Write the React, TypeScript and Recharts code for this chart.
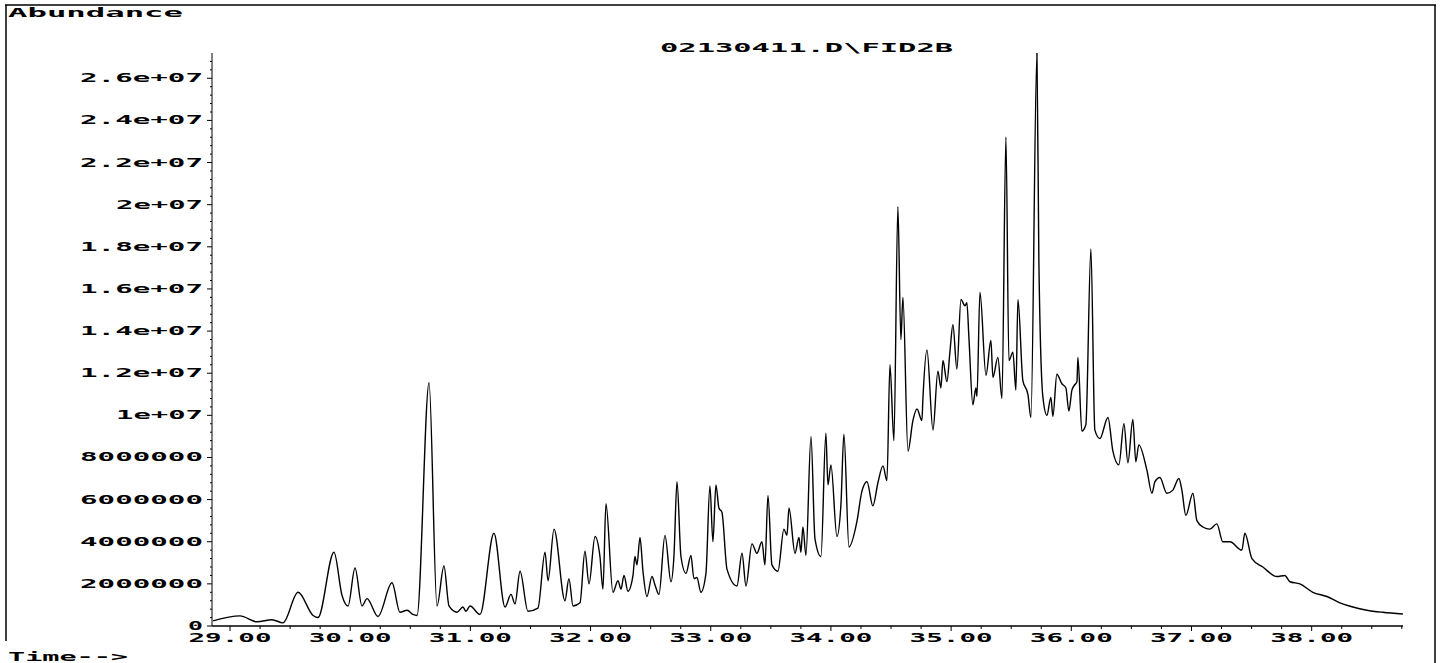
import React from 'react';
import { LineChart, Line, XAxis, YAxis } from 'recharts';

// retention time (min) of each traced vertex of the FID trace
const retentionTimes = [
  28.859, 29.083, 29.225, 29.349, 29.441, 29.566, 29.691, 29.732, 29.865, 29.932,
  29.982, 30.04, 30.098, 30.14, 30.231, 30.348, 30.414, 30.473, 30.522, 30.556,
  30.656, 30.722, 30.78, 30.822, 30.889, 30.938, 30.963, 30.997, 31.08, 31.196,
  31.288, 31.338, 31.371, 31.413, 31.479, 31.562, 31.621, 31.646, 31.696, 31.787,
  31.82, 31.854, 31.912, 31.953, 31.987, 32.037, 32.078, 32.103, 32.128, 32.186,
  32.228, 32.253, 32.278, 32.311, 32.353, 32.369, 32.386, 32.411, 32.436, 32.469,
  32.511, 32.536, 32.569, 32.619, 32.669, 32.694, 32.719, 32.752, 32.794, 32.835,
  32.86, 32.885, 32.918, 32.96, 32.993, 33.018, 33.043, 33.068, 33.093, 33.135,
  33.218, 33.26, 33.293, 33.343, 33.384, 33.426, 33.451, 33.476, 33.509, 33.559,
  33.609, 33.634, 33.651, 33.701, 33.734, 33.75, 33.767, 33.792, 33.834, 33.867,
  33.917, 33.958, 33.975, 34.0, 34.05, 34.083, 34.108, 34.15, 34.216, 34.258,
  34.3, 34.349, 34.391, 34.433, 34.466, 34.491, 34.524, 34.557, 34.582, 34.599,
  34.641, 34.682, 34.716, 34.757, 34.765, 34.799, 34.849, 34.89, 34.915, 34.932,
  34.965, 34.99, 35.015, 35.048, 35.082, 35.115, 35.131, 35.148, 35.181, 35.206,
  35.215, 35.24, 35.29, 35.331, 35.348, 35.389, 35.423, 35.456, 35.481, 35.514,
  35.539, 35.556, 35.597, 35.639, 35.664, 35.714, 35.73, 35.764, 35.797, 35.83,
  35.847, 35.88, 35.922, 35.955, 35.98, 36.005, 36.022, 36.047, 36.055, 36.088,
  36.121, 36.163, 36.196, 36.238, 36.305, 36.346, 36.396, 36.438, 36.471, 36.512,
  36.537, 36.562, 36.629, 36.671, 36.696, 36.737, 36.795, 36.845, 36.895, 36.92,
  36.953, 37.012, 37.045, 37.095, 37.153, 37.211, 37.261, 37.32, 37.419, 37.444,
  37.503, 37.594, 37.711, 37.777, 37.819, 37.902, 38.01, 38.127, 38.235, 38.343,
  38.459, 38.592, 38.759,
];

// abundance at each of those times
const abundances = [
  0.24e6, 0.48e6, 0.2e6, 0.3e6, 0.15e6, 1.6e6, 0.5e6, 0.4e6, 3.5e6, 1.45e6,
  0.95e6, 2.75e6, 0.95e6, 1.3e6, 0.45e6, 2.05e6, 0.65e6, 0.75e6, 0.55e6, 0.5e6,
  11.55e6, 0.95e6, 2.85e6, 0.95e6, 0.65e6, 0.9e6, 0.7e6, 0.95e6, 0.55e6, 4.4e6,
  0.9e6, 1.5e6, 1.05e6, 2.6e6, 0.7e6, 0.85e6, 3.5e6, 2.15e6, 4.6e6, 1.2e6,
  2.25e6, 0.95e6, 1.1e6, 3.55e6, 2.0e6, 4.25e6, 3.3e6, 1.75e6, 5.8e6, 1.6e6,
  2.15e6, 1.75e6, 2.4e6, 1.65e6, 2.4e6, 3.3e6, 2.9e6, 4.2e6, 2.6e6, 1.4e6,
  2.35e6, 1.95e6, 1.5e6, 4.3e6, 2.1e6, 3.35e6, 6.85e6, 3.3e6, 2.5e6, 3.35e6,
  2.25e6, 2.3e6, 1.6e6, 2.5e6, 6.65e6, 4.0e6, 6.7e6, 5.6e6, 5.4e6, 2.7e6,
  1.9e6, 3.45e6, 1.9e6, 3.9e6, 3.45e6, 4.0e6, 2.9e6, 6.2e6, 2.9e6, 2.6e6,
  4.6e6, 4.3e6, 5.6e6, 3.45e6, 4.2e6, 3.5e6, 4.7e6, 3.35e6, 9.0e6, 4.15e6,
  3.3e6, 9.15e6, 6.7e6, 7.65e6, 4.25e6, 5.75e6, 9.1e6, 3.75e6, 4.95e6, 6.4e6,
  6.85e6, 5.7e6, 6.8e6, 7.6e6, 6.9e6, 12.4e6, 8.8e6, 19.9e6, 13.6e6, 15.6e6,
  8.3e6, 9.75e6, 10.3e6, 9.75e6, 10.75e6, 13.1e6, 9.3e6, 12.1e6, 11.3e6, 12.6e6,
  11.6e6, 13.0e6, 14.3e6, 12.2e6, 15.5e6, 15.2e6, 15.35e6, 13.7e6, 10.5e6, 11.3e6,
  10.9e6, 15.85e6, 11.9e6, 13.55e6, 11.8e6, 12.75e6, 10.8e6, 23.2e6, 12.6e6, 13.0e6,
  11.2e6, 15.5e6, 11.65e6, 11.0e6, 9.9e6, 27.2e6, 17.4e6, 10.85e6, 10.0e6, 10.85e6,
  9.95e6, 11.95e6, 11.5e6, 11.3e6, 10.2e6, 11.2e6, 11.4e6, 11.6e6, 12.75e6, 9.25e6,
  9.55e6, 17.9e6, 9.3e6, 8.9e6, 9.9e6, 8.3e6, 7.65e6, 9.6e6, 7.75e6, 9.8e6,
  7.8e6, 8.6e6, 7.4e6, 6.3e6, 6.85e6, 7.05e6, 6.3e6, 6.45e6, 7.0e6, 6.45e6,
  5.25e6, 6.3e6, 5.0e6, 4.7e6, 4.6e6, 4.85e6, 4.0e6, 4.0e6, 3.6e6, 4.4e6,
  3.2e6, 2.8e6, 2.35e6, 2.4e6, 2.1e6, 2.0e6, 1.6e6, 1.4e6, 1.1e6, 0.9e6,
  0.75e6, 0.65e6, 0.57e6,
];

const xMajorTicks = [29, 30, 31, 32, 33, 34, 35, 36, 37, 38];
const xTickLabels = ['29.00', '30.00', '31.00', '32.00', '33.00', '34.00', '35.00', '36.00', '37.00', '38.00'];
const yMajorTicks = [0, 2000000, 4000000, 6000000, 8000000, 10000000, 12000000, 14000000, 16000000, 18000000, 20000000, 22000000, 24000000, 26000000];
const yTickLabels = ['0', '2000000', '4000000', '6000000', '8000000', '1e+07', '1.2e+07', '1.4e+07', '1.6e+07', '1.8e+07', '2e+07', '2.2e+07', '2.4e+07', '2.6e+07'];

const chartTitle = '02130411.D\\FID2B';
const yAxisTitle = 'Abundance';
const xAxisTitle = 'Time-->';

const data = retentionTimes.map((t, i) => ({ time: t, abundance: abundances[i] }));

// minor ticks: quarter minutes, 400000 counts
const xMinorTicks = Array.from({ length: 40 }, (_, i) => 29 + i * 0.25).filter((v) => v % 1 !== 0);
const yMinorTicks = Array.from({ length: 68 }, (_, i) => i * 400000).filter((v) => !yMajorTicks.includes(v));

const FONT = '"DejaVu Sans Mono", monospace';

const findMajor = (list: number[], v: number) => list.findIndex((m) => Math.abs(m - v) < 1e-6);

const XTick = (props: any) => {
  const { x, y, payload } = props;
  const i = findMajor(xMajorTicks, payload.value);
  if (i < 0) return <line x1={x} x2={x} y1={y} y2={y + 3} stroke="#000" strokeWidth={1} />;
  const label = xTickLabels[i];
  return (
    <g>
      <line x1={x} x2={x} y1={y} y2={y + 5} stroke="#000" strokeWidth={1} />
      <text x={x} y={y + 16} textAnchor="middle" fontFamily={FONT} fontWeight="bold" fontSize={12}
        textLength={label.length * 17 - 2} lengthAdjust="spacingAndGlyphs" fill="#000">
        {label}
      </text>
    </g>
  );
};

const YTick = (props: any) => {
  const { x, y, payload } = props;
  const i = findMajor(yMajorTicks, payload.value);
  if (i < 0) return <line x1={x - 2} x2={x} y1={y} y2={y} stroke="#000" strokeWidth={1} />;
  const label = yTickLabels[i];
  return (
    <g>
      <line x1={x - 5} x2={x} y1={y} y2={y} stroke="#000" strokeWidth={1} />
      <text x={x - 9} y={y + 4} textAnchor="end" fontFamily={FONT} fontWeight="bold" fontSize={12}
        textLength={label.length * 18 - 3} lengthAdjust="spacingAndGlyphs" fill="#000">
        {label}
      </text>
    </g>
  );
};

export default function App() {
  return (
    <div style={{ position: 'absolute', left: 0, top: 0, width: 1441, height: 663, background: '#fff' }}>
      <LineChart width={1441} height={663} data={data} margin={{ top: 53, right: 38, bottom: 0, left: 0 }}>
        <XAxis
          dataKey="time"
          type="number"
          domain={[28.85, 38.76]}
          allowDataOverflow
          ticks={[...xMinorTicks, ...xMajorTicks]}
          interval={0}
          height={37}
          tickSize={0}
          tickMargin={0}
          tickLine={false}
          axisLine={{ stroke: '#000', strokeWidth: 1.5 }}
          tick={XTick}
        />
        <YAxis
          type="number"
          domain={[0, 27200000]}
          allowDataOverflow
          ticks={[...yMinorTicks, ...yMajorTicks]}
          interval={0}
          width={212}
          tickSize={0}
          tickMargin={0}
          tickLine={false}
          axisLine={{ stroke: '#000', strokeWidth: 1 }}
          tick={YTick}
        />
        <Line
          type="monotone"
          dataKey="abundance"
          stroke="#000"
          strokeWidth={1.4}
          dot={false}
          isAnimationActive={false}
        />
      </LineChart>
      <svg width={1441} height={663} style={{ position: 'absolute', left: 0, top: 0, pointerEvents: 'none' }}>
        <line x1={5} x2={1436} y1={5} y2={5} stroke="#000" strokeWidth={1.5} />
        <line x1={6} x2={6} y1={5} y2={641} stroke="#000" strokeWidth={1.5} />
        <line x1={1435} x2={1435} y1={5} y2={663} stroke="#000" strokeWidth={1.5} />
        <text x={8} y={17} fontFamily={FONT} fontWeight="bold" fontSize={12}
          textLength={175} lengthAdjust="spacingAndGlyphs" fill="#000">{yAxisTitle}</text>
        <text x={660} y={52} fontFamily={FONT} fontWeight="bold" fontSize={12}
          textLength={293} lengthAdjust="spacingAndGlyphs" fill="#000">{chartTitle}</text>
        <text x={8} y={661} fontFamily={FONT} fontWeight="bold" fontSize={12}
          textLength={120} lengthAdjust="spacingAndGlyphs" fill="#000">{xAxisTitle}</text>
      </svg>
    </div>
  );
}
